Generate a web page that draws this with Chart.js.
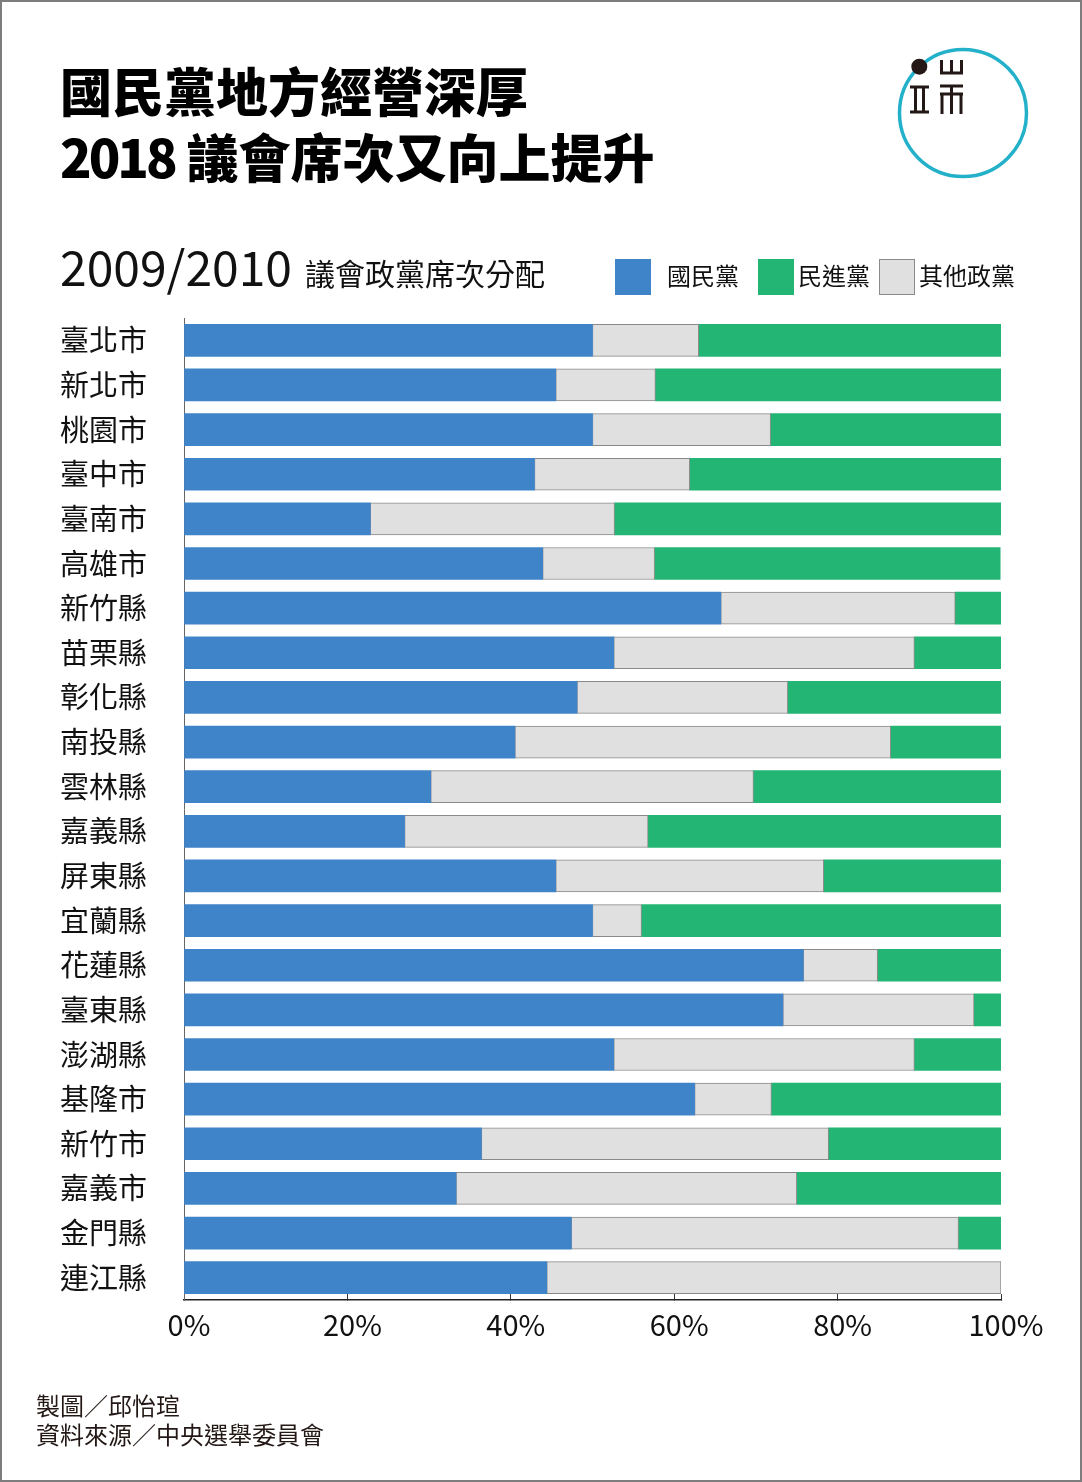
<!DOCTYPE html>
<html>
<head>
<meta charset="utf-8">
<style>
html, body { margin: 0; padding: 0; background: #fff; overflow: hidden; }
#page { position: relative; width: 1082px; height: 1482px; overflow: hidden; font-family: "Noto Sans CJK TC", sans-serif; color: #111; }
#page div { position: absolute; white-space: nowrap; }
#wrap { left: 0; top: 0; width: 1082px; height: 1482px; }
#frame { left: 0; top: 0; width: 1082px; height: 1482px; box-sizing: border-box; border: 2px solid #7d7d7d; }
.title { left: 60px; font-size: 52px; font-weight: 900; line-height: 66px; color: #000; }
.sw { width: 36px; height: 36px; top: 259px; box-sizing: border-box; }
.lg { top: 257px; font-size: 24px; line-height: 36px; }
.src { left: 36px; font-size: 24px; line-height: 29px; color: #231815; }
</style>
</head>
<body>
<div id="page">
  <div id="wrap"><canvas id="chart" width="1082" height="1482"></canvas></div>
  <div id="frame"></div>
  <div class="title" style="top:57px">國民黨地方經營深厚</div>
  <div class="title" style="top:123px"><span style="letter-spacing:-3px">2018</span> 議會席次又向上提升</div>
  <div style="left:60px;top:233px;font-size:48px;line-height:64px">2009/2010</div>
  <div style="left:305px;top:252px;font-size:30px;line-height:40px">議會政黨席次分配</div>
  <div class="sw" style="left:615px;background:#3f83c9"></div>
  <div class="lg" style="left:667px">國民黨</div>
  <div class="sw" style="left:758px;background:#22b573"></div>
  <div class="lg" style="left:798px">民進黨</div>
  <div class="sw" style="left:879px;background:#e0e0e0;border:1px solid #8a8a8a"></div>
  <div class="lg" style="left:919px">其他政黨</div>
  <div class="src" style="top:1390px">製圖／邱怡瑄</div>
  <div class="src" style="top:1419px">資料來源／中央選舉委員會</div>
  <svg style="position:absolute;left:891px;top:41px" width="140" height="140">
    <circle cx="72" cy="72" r="63.5" fill="none" stroke="#23b1ca" stroke-width="3.5"/>
    <circle cx="28.3" cy="25.7" r="8" fill="#231815"/>
    <path d="M50.5 19v14M60.5 19v14M70.5 19v14M49 32h23M19 46h19M19 71h19M24.5 46v25M32.5 46v25M49 45h23M49 53h23M51 53v20M60.5 45v28M70 53v20" fill="none" stroke="#231815" stroke-width="3"/>
  </svg>
</div>
<script src="https://cdn.jsdelivr.net/npm/chart.js@4/dist/chart.umd.min.js"></script>
<script>
const counties = ['臺北市','新北市','桃園市','臺中市','臺南市','高雄市','新竹縣','苗栗縣','彰化縣','南投縣','雲林縣','嘉義縣','屏東縣','宜蘭縣','花蓮縣','臺東縣','澎湖縣','基隆市','新竹市','嘉義市','金門縣','連江縣'];
const kmt = [50, 45.5, 50, 42.9, 22.8, 43.9, 65.7, 52.6, 48.1, 40.5, 30.2, 27, 45.5, 50, 75.8, 73.3, 52.6, 62.5, 36.4, 33.3, 47.4, 44.4];
const other = [13, 12.2, 21.8, 19, 29.9, 13.7, 28.7, 36.8, 25.8, 46, 39.5, 29.8, 32.8, 6, 9.1, 23.4, 36.8, 9.4, 42.5, 41.7, 47.4, 55.6];
const dpp = [37, 42.3, 28.2, 38.1, 47.3, 42.3, 5.6, 10.6, 26.1, 13.5, 30.3, 43.2, 21.7, 44, 15.1, 3.3, 10.6, 28.1, 21.1, 25, 5.2, 0];
const tickLabels = ['0%','20%','40%','60%','80%','100%'];

const ctx = document.getElementById('chart').getContext('2d');
const bar = { barThickness: 32, borderSkipped: false };
new Chart(ctx, {
    type: 'bar',
    data: {
        labels: counties,
        datasets: [
            { label: '國民黨', data: kmt, backgroundColor: '#3f83c9', borderWidth: 0, ...bar },
            { label: '其他政黨', data: other, backgroundColor: '#e0e0e0', borderColor: '#8a8a8a', borderWidth: 1, ...bar },
            { label: '民進黨', data: dpp, backgroundColor: '#22b573', borderWidth: 0, ...bar }
        ]
    },
    options: {
        indexAxis: 'y',
        responsive: false,
        animation: false,
        layout: { padding: { left: 60, top: 318, right: 81, bottom: 122 } },
        plugins: { legend: { display: false }, tooltip: { enabled: false } },
        scales: {
            x: {
                stacked: true,
                min: 0,
                max: 100,
                afterFit: (s) => { s.height = 60; },
                // ticks point up into the plot, as in the original
                grid: { drawOnChartArea: false, drawTicks: true, tickLength: -6, tickColor: '#333' },
                border: { color: '#222', width: 1.5 },
                ticks: {
                    stepSize: 20,
                    maxRotation: 0,
                    color: '#111',
                    font: { family: '"Noto Sans CJK TC"', size: 29 },
                    padding: 14,
                    labelOffset: 5,
                    callback: (v) => tickLabels[v / 20]
                }
            },
            y: {
                stacked: true,
                afterFit: (s) => { s.width = 124; },
                grid: { display: false, drawTicks: false },
                border: { color: '#666', width: 1 },
                ticks: {
                    color: '#111',
                    crossAlign: 'far',
                    padding: 0,
                    font: { family: '"Noto Sans CJK TC"', size: 29 }
                }
            }
        }
    }
});
</script>
</body>
</html>
